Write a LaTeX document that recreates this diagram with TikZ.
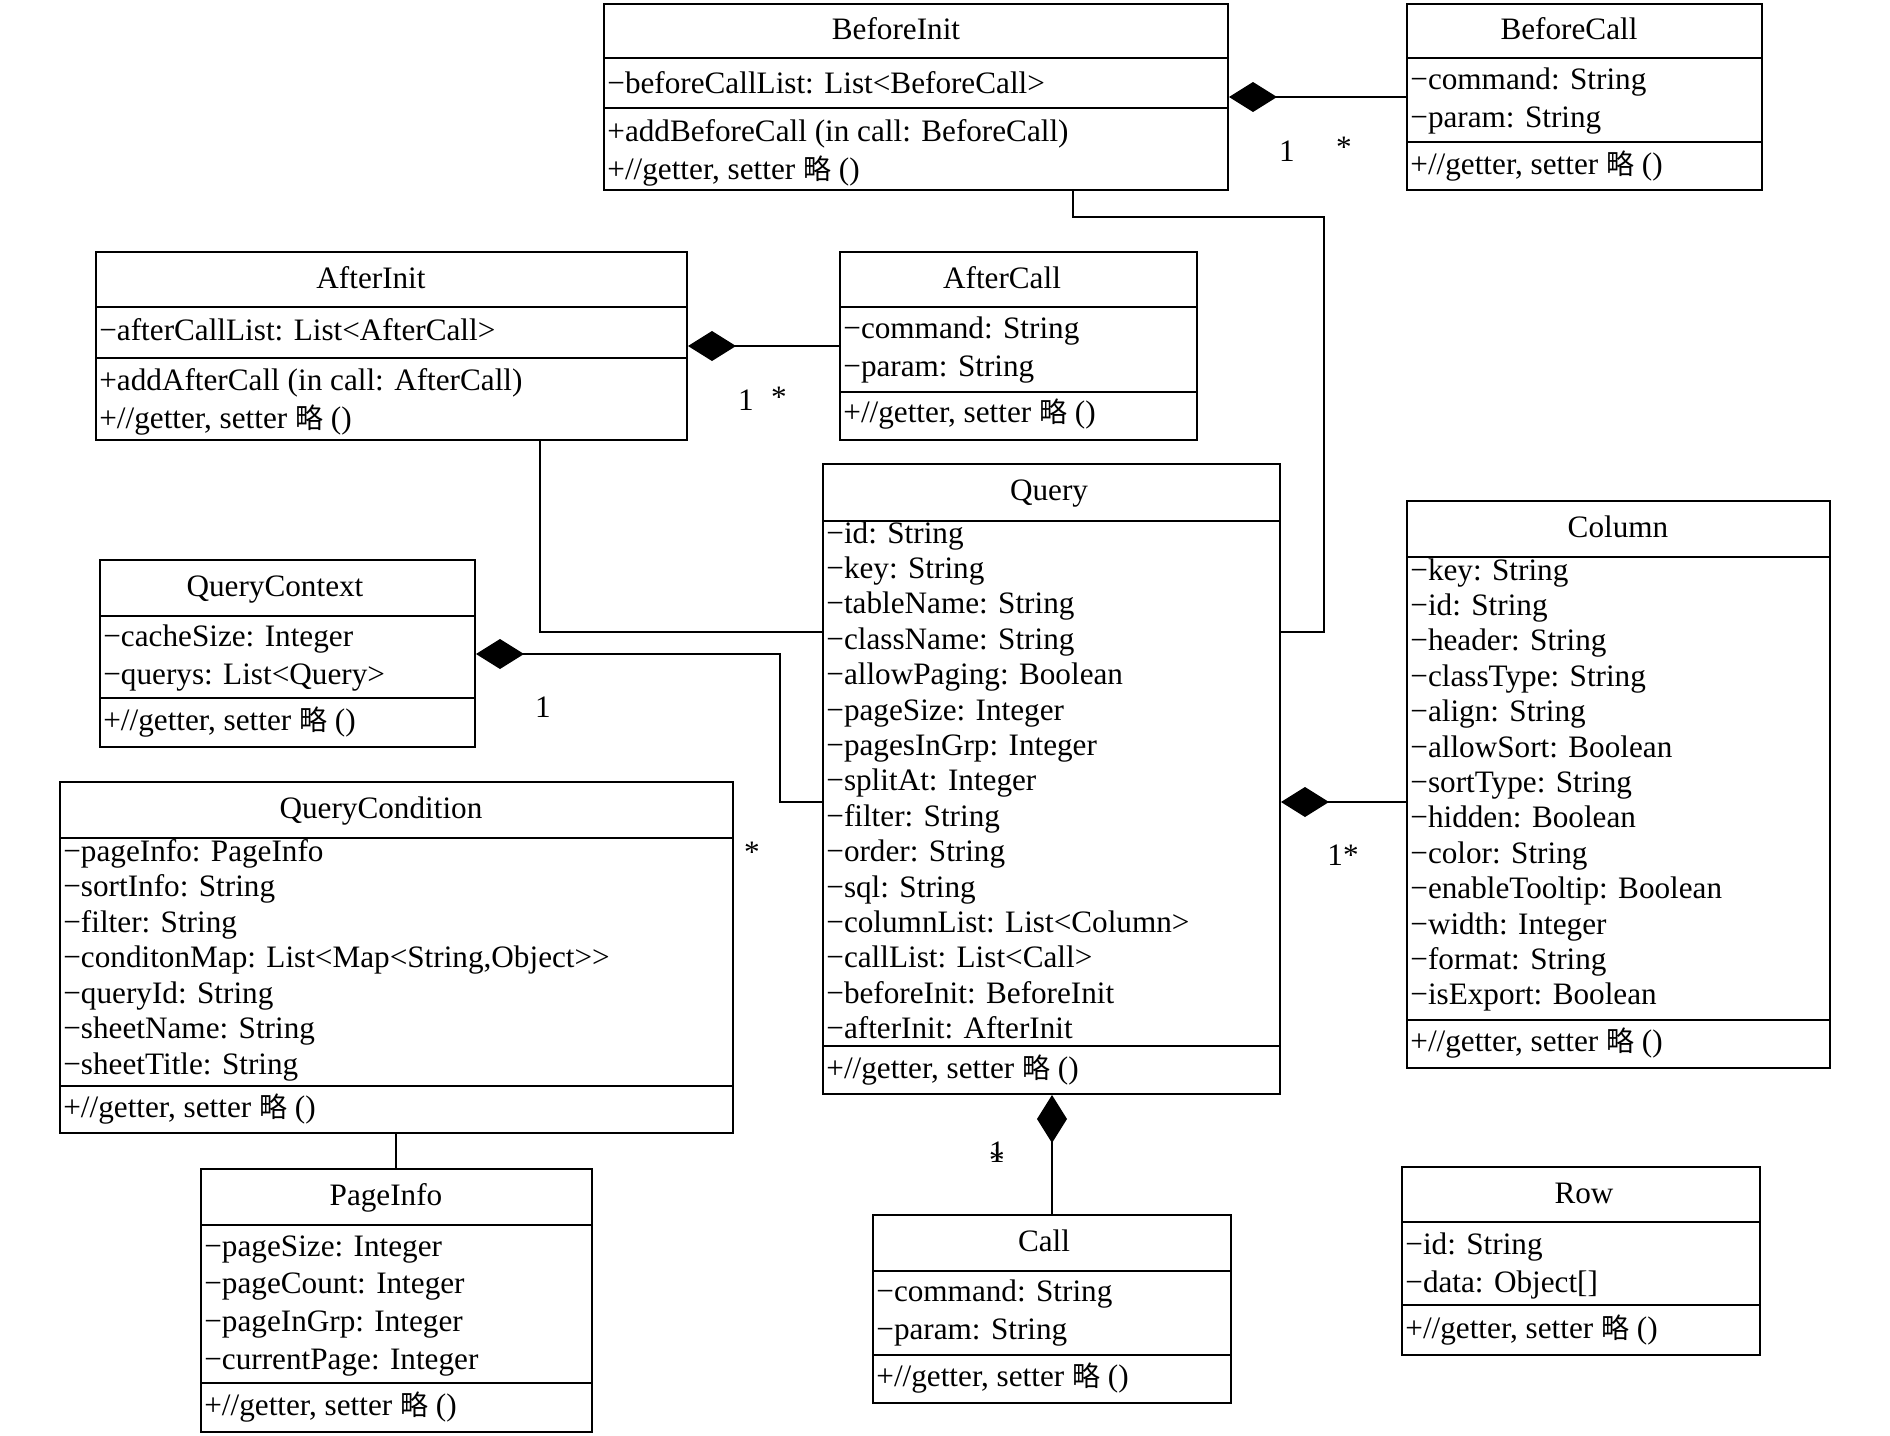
\documentclass[tikz,border=0pt]{standalone}
\usepackage{fontspec}
\setmainfont{Liberation Serif}
\newfontfamily\cjk{Noto Sans CJK SC}
\usetikzlibrary{arrows.meta,fit}

\newcommand\gsline{+//getter, setter {\cjk\fontsize{14pt}{14pt}\selectfont 略} ()}

\tikzset{
  umlbox/.style={draw, line width=1pt, inner sep=0pt},
  ttl/.style={font=\fontsize{15.6pt}{18pt}\selectfont, inner sep=0pt, text height=11pt, text depth=3pt},
  item/.style={anchor=west, font=\fontsize{15.6pt}{18pt}\selectfont, inner sep=0pt, text height=11pt, text depth=3pt},
  link/.style={line width=1pt},
  comp/.style={line width=1pt, -{Diamond[length=24pt,width=15pt]}},
  mult/.style={font=\fontsize{15.6pt}{18pt}\selectfont, inner sep=0pt}
}

\begin{document}
\begin{tikzpicture}[x=0.5pt,y=-0.5pt]
  \useasboundingbox (0,0) rectangle (1890,1435);

  % BeforeInit
  \node[umlbox, fit={(604,4) (1228,190)}] (bi) {};
  \draw[link] (bi.west |- 0,58) -- (bi.east |- 0,58);
  \draw[link] (bi.west |- 0,108) -- (bi.east |- 0,108);
  \node[ttl] (bi-t) at (896,31) {BeforeInit};
  \node[item] (bi-a0) at (607,85) {−beforeCallList: List<BeforeCall>};
  \foreach \t [count=\i from 0] in {{+addBeforeCall (in call: BeforeCall)},\gsline}
    \node[item] (bi-m\i) at (607,133+38*\i) {\t};

  % BeforeCall
  \node[umlbox, fit={(1407,4) (1762,190)}] (bc) {};
  \draw[link] (bc.west |- 0,58) -- (bc.east |- 0,58);
  \draw[link] (bc.west |- 0,142) -- (bc.east |- 0,142);
  \node[ttl] (bc-t) at (1569,31) {BeforeCall};
  \foreach \t [count=\i from 0] in {−command: String, −param: String}
    \node[item] (bc-a\i) at (1410,81+38*\i) {\t};
  \node[item] (bc-m0) at (1410,166) {\gsline};

  % AfterInit
  \node[umlbox, fit={(96,252) (687,440)}] (ai) {};
  \draw[link] (ai.west |- 0,307) -- (ai.east |- 0,307);
  \draw[link] (ai.west |- 0,358) -- (ai.east |- 0,358);
  \node[ttl] (ai-t) at (371,280) {AfterInit};
  \node[item] (ai-a0) at (99,332) {−afterCallList: List<AfterCall>};
  \foreach \t [count=\i from 0] in {{+addAfterCall (in call: AfterCall)},\gsline}
    \node[item] (ai-m\i) at (99,382+38*\i) {\t};

  % AfterCall
  \node[umlbox, fit={(840,252) (1197,440)}] (ac) {};
  \draw[link] (ac.west |- 0,307) -- (ac.east |- 0,307);
  \draw[link] (ac.west |- 0,392) -- (ac.east |- 0,392);
  \node[ttl] (ac-t) at (1002,280) {AfterCall};
  \foreach \t [count=\i from 0] in {−command: String, −param: String}
    \node[item] (ac-a\i) at (843,330+38*\i) {\t};
  \node[item] (ac-m0) at (843,414) {\gsline};

  % Query
  \node[umlbox, fit={(823,464) (1280,1094)}] (q) {};
  \draw[link] (q.west |- 0,521) -- (q.east |- 0,521);
  \draw[link] (q.west |- 0,1046) -- (q.east |- 0,1046);
  \node[ttl] (q-t) at (1049,492) {Query};
  \foreach \t [count=\i from 0] in {−id: String, −key: String, −tableName: String,
      −className: String, −allowPaging: Boolean, −pageSize: Integer,
      −pagesInGrp: Integer, −splitAt: Integer, −filter: String, −order: String,
      −sql: String, −columnList: List<Column>, −callList: List<Call>,
      −beforeInit: BeforeInit, −afterInit: AfterInit}
    \node[item] (q-a\i) at (826,535+35.4*\i) {\t};
  \node[item] (q-m0) at (826,1070) {\gsline};

  % Column
  \node[umlbox, fit={(1407,501) (1830,1068)}] (col) {};
  \draw[link] (col.west |- 0,557) -- (col.east |- 0,557);
  \draw[link] (col.west |- 0,1020) -- (col.east |- 0,1020);
  \node[ttl] (col-t) at (1618,529) {Column};
  \foreach \t [count=\i from 0] in {−key: String, −id: String, −header: String,
      −classType: String, −align: String, −allowSort: Boolean, −sortType: String,
      −hidden: Boolean, −color: String, −enableTooltip: Boolean, −width: Integer,
      −format: String, −isExport: Boolean}
    \node[item] (col-a\i) at (1410,572+35.4*\i) {\t};
  \node[item] (col-m0) at (1410,1043) {\gsline};

  % QueryContext
  \node[umlbox, fit={(100,560) (475,747)}] (qc) {};
  \draw[link] (qc.west |- 0,616) -- (qc.east |- 0,616);
  \draw[link] (qc.west |- 0,698) -- (qc.east |- 0,698);
  \node[ttl] (qc-t) at (275,588) {QueryContext};
  \foreach \t [count=\i from 0] in {−cacheSize: Integer, −querys: List<Query>}
    \node[item] (qc-a\i) at (103,638+38*\i) {\t};
  \node[item] (qc-m0) at (103,722) {\gsline};

  % QueryCondition
  \node[umlbox, fit={(60,782) (733,1133)}] (qd) {};
  \draw[link] (qd.west |- 0,838) -- (qd.east |- 0,838);
  \draw[link] (qd.west |- 0,1086) -- (qd.east |- 0,1086);
  \node[ttl] (qd-t) at (381,810) {QueryCondition};
  \foreach \t [count=\i from 0] in {−pageInfo: PageInfo, −sortInfo: String,
      −filter: String, {−conditonMap: List<Map<String,Object>{}>}, −queryId: String,
      −sheetName: String, −sheetTitle: String}
    \node[item] (qd-a\i) at (63,853+35.5*\i) {\t};
  \node[item] (qd-m0) at (63,1109) {\gsline};

  % PageInfo
  \node[umlbox, fit={(201,1169) (592,1432)}] (pi) {};
  \draw[link] (pi.west |- 0,1225) -- (pi.east |- 0,1225);
  \draw[link] (pi.west |- 0,1383) -- (pi.east |- 0,1383);
  \node[ttl] (pi-t) at (386,1197) {PageInfo};
  \foreach \t [count=\i from 0] in {−pageSize: Integer, −pageCount: Integer,
      −pageInGrp: Integer, −currentPage: Integer}
    \node[item] (pi-a\i) at (204,1248+37.8*\i) {\t};
  \node[item] (pi-m0) at (204,1407) {\gsline};

  % Call
  \node[umlbox, fit={(873,1215) (1231,1403)}] (call) {};
  \draw[link] (call.west |- 0,1271) -- (call.east |- 0,1271);
  \draw[link] (call.west |- 0,1355) -- (call.east |- 0,1355);
  \node[ttl] (call-t) at (1044,1243) {Call};
  \foreach \t [count=\i from 0] in {−command: String, −param: String}
    \node[item] (call-a\i) at (876,1293+38.5*\i) {\t};
  \node[item] (call-m0) at (876,1378) {\gsline};

  % Row
  \node[umlbox, fit={(1402,1167) (1760,1355)}] (row) {};
  \draw[link] (row.west |- 0,1222) -- (row.east |- 0,1222);
  \draw[link] (row.west |- 0,1305) -- (row.east |- 0,1305);
  \node[ttl] (row-t) at (1584,1195) {Row};
  \foreach \t [count=\i from 0] in {−id: String, −data: Object[]}
    \node[item] (row-a\i) at (1405,1246+38*\i) {\t};
  \node[item] (row-m0) at (1405,1330) {\gsline};

  % connectors
  \draw[comp] (bc.west |- 0,97) -- (bi.east |- 0,97);
  \draw[comp] (ac.west |- 0,346) -- (ai.east |- 0,346);
  \draw[link] (bi.south -| 1073,0) |- (1324,217) |- (q.east |- 0,632);
  \draw[link] (ai.south -| 540,0) |- (q.west |- 0,632);
  \draw[comp] (q.west |- 0,802) -| (780,654) -- (qc.east |- 0,654);
  \draw[comp] (col.west |- 0,802) -- (q.east |- 0,802);
  \draw[comp] (call.north -| 1052,0) -- (q.south -| 1052,0);
  \draw[link] (qd.south -| 396,0) -- (pi.north -| 396,0);

  % multiplicities
  \node[mult] (m-bi) at (1287,151) {1};
  \node[mult] (m-bc) at (1344,147) {*};
  \node[mult] (m-ai) at (746,400) {1};
  \node[mult] (m-ac) at (779,397) {*};
  \node[mult] (m-qc) at (543,707) {1};
  \node[mult] (m-qq) at (752,852) {*};
  \node[mult] (m-col) at (1343,855) {1*};
  \node[mult] (m-q1) at (997,1152) {1};
  \node[mult] (m-call) at (997,1160) {*};
\end{tikzpicture}
\end{document}
